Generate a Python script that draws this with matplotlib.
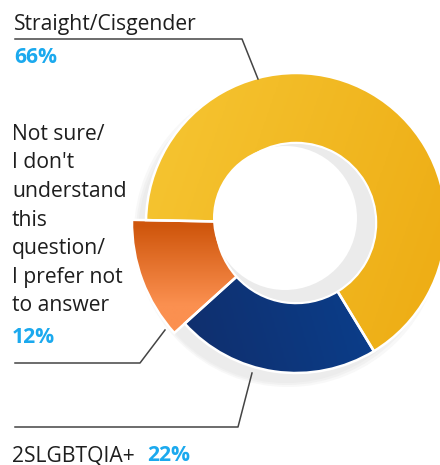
import numpy as np
import matplotlib
matplotlib.use('Agg')
import matplotlib.pyplot as plt
from matplotlib.patches import Wedge, Circle
from matplotlib.colors import LinearSegmentedColormap

plt.rcParams['font.family'] = ['Open Sans', 'DejaVu Sans']

# survey shares
labels = ['Straight/Cisgender', 'Not sure/\nI don\'t\nunderstand\nthis\nquestion/\nI prefer not\nto answer', '2SLGBTQIA+']
values = [66, 12, 22]
pct_text = ['66%', '12%', '22%']

# gradient end colours per slice (start, end) and gradient direction
grad_cols = [('#F6C633', '#EDAB12'), ('#CF560C', '#FB9050'), ('#112B66', '#0749A0')]
grad_dirs = [(1.0, -0.35), (0.15, -1.0), (1.0, 0.3)]

W, H = 440, 465
fig = plt.figure(figsize=(W / 100, H / 100), dpi=100)
ax = fig.add_axes([0, 0, 1, 1])
ax.set_xlim(0, W)
ax.set_ylim(0, H)
ax.set_aspect('equal')
ax.axis('off')

def py(y):
    return H - y

cx, cy = 296, py(223)
R, r = 150, 80
R_out = [R, 164, R]   # small slice sticks out a bit

# soft grey shadow behind the ring, mostly towards lower left
for k, a in enumerate([0.35, 0.5, 0.8]):
    ax.add_patch(Circle((cx - 8 - k, cy - 10 - k), R + 4 - 3 * k, color='#EBEBEB', alpha=a, lw=0, zorder=1))

theta = -58.7  # yellow starts at lower right and runs counterclockwise
for i, v in enumerate(values):
    span = v / 100 * 360
    t1, t2 = theta, theta + span
    theta = t2
    ro = R_out[i]
    w = Wedge((cx, cy), ro, t1, t2, width=ro - r, facecolor='none', edgecolor='none', zorder=2)
    ax.add_patch(w)
    x0, x1, y0, y1 = cx - ro, cx + ro, cy - ro, cy + ro
    X, Y = np.meshgrid(np.linspace(x0, x1, 200), np.linspace(y0, y1, 200))
    dx, dy = grad_dirs[i]
    if i == 1:
        # orange shades along its own short extent
        mid = np.deg2rad((t1 + t2) / 2)
        X0 = cx + (r + ro) / 2 * np.cos(mid)
        Y0 = cy + (r + ro) / 2 * np.sin(mid)
        t = np.clip(((Y0 - Y) + 40) / 80, 0, 1)
    else:
        t = (X - cx) * dx + (Y - cy) * dy
        t = (t - t.min()) / (t.max() - t.min())
    cmap = LinearSegmentedColormap.from_list('g%d' % i, grad_cols[i])
    im = ax.imshow(t, extent=[x0, x1, y0, y1], origin='lower', cmap=cmap, zorder=2, interpolation='bilinear')
    im.set_clip_path(w)
    ax.add_patch(Wedge((cx, cy), ro, t1, t2, width=ro - r, facecolor='none', edgecolor='white', lw=1.8, zorder=3))

# hole with a grey crescent on the right
ax.add_patch(Circle((cx, cy), r - 1, color='#EBEBEB', lw=0, zorder=4))
ax.add_patch(Circle((cx - 11, cy + 5), r - 8, color='white', lw=0, zorder=4))

# leader lines
lc = '#444444'
ax.plot([15, 242, 258], [py(39), py(39), py(79)], color=lc, lw=1.1, zorder=5)
ax.plot([15, 140, 165], [py(363), py(363), py(330)], color=lc, lw=1.1, zorder=5)
ax.plot([15, 238, 252], [py(427), py(427), py(373)], color=lc, lw=1.1, zorder=5)

tc = '#1E1E1E'
pc = '#1BA9EE'
fs = 15.2

ax.text(14, py(30), labels[0], fontsize=fs, color=tc, va='baseline', ha='left')
ax.text(14, py(63), pct_text[0], fontsize=fs, color=pc, fontweight='bold', va='baseline', ha='left')

for j, line in enumerate(labels[1].split('\n')):
    ax.text(12, py(140 + 28.5 * j), line, fontsize=fs, color=tc, va='baseline', ha='left')
ax.text(12, py(343), pct_text[1], fontsize=fs, color=pc, fontweight='bold', va='baseline', ha='left')

ax.text(12, py(461), labels[2], fontsize=fs, color=tc, va='baseline', ha='left')
ax.text(147, py(461), pct_text[2], fontsize=fs, color=pc, fontweight='bold', va='baseline', ha='left')

fig.savefig('out.png', dpi=100)
